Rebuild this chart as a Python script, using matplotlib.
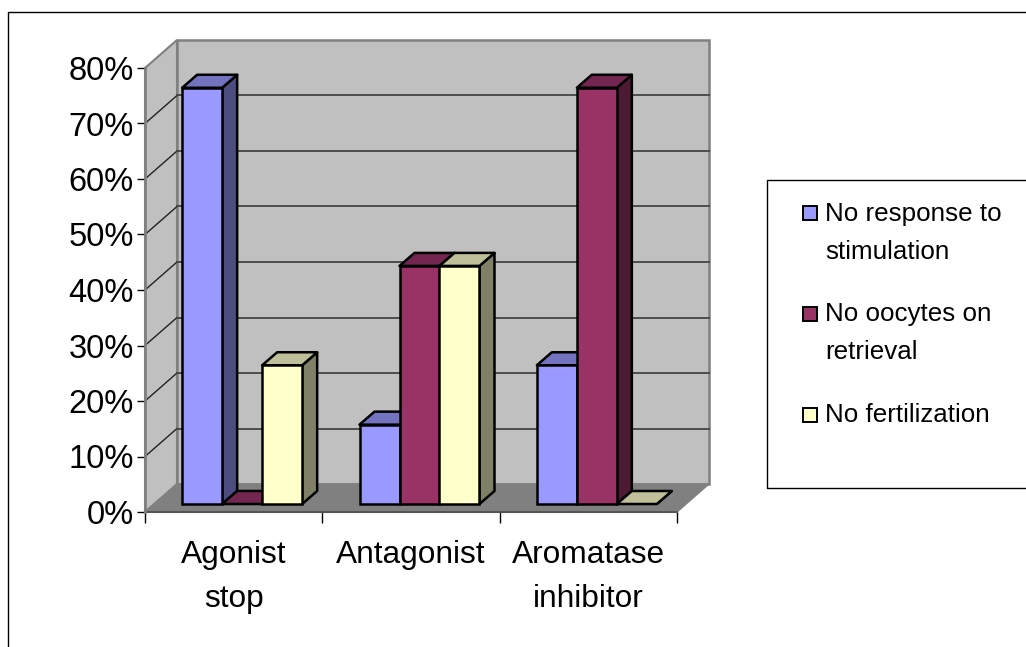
import numpy as np
import matplotlib
matplotlib.use('Agg')
import matplotlib.pyplot as plt
from matplotlib.lines import Line2D
from matplotlib.patches import Rectangle

plt.rcParams['font.family'] = ['Liberation Sans', 'DejaVu Sans']

categorias = ['Agonist\nstop', 'Antagonist', 'Aromatase\ninhibitor']
series = ['No response to\nstimulation', 'No oocytes on\nretrieval', 'No fertilization']
sem_resposta = [75, 14.3, 25]
sem_oocitos = [0, 42.9, 75]
sem_fertilizacao = [25, 42.9, 0]
valores_y = [0, 10, 20, 30, 40, 50, 60, 70, 80]

W, H = 1026, 647
frente = '#9999FF', '#993366', '#FFFFCC'
topo = '#7373BF', '#732650', '#BFBF99'
lado = '#4D4D80', '#4D1A33', '#808066'

fig = plt.figure(figsize=(W / 100, H / 100), dpi=100)
# eixo = plano da frente do grafico 3d falso
ax = fig.add_axes([145 / W, 1 - 512 / H, 532 / W, 444 / H])
ax.set_xlim(0, 3)
ax.set_ylim(0, 80)
for s in ax.spines.values():
    s.set_visible(False)
ax.patch.set_visible(False)

px_x = 3 / 532  # dados por pixel
px_y = 80 / 444
dx, dy = 32 * px_x, 28 * px_y  # profundidade das paredes

# paredes e chao
ax.fill([0, dx, dx, 0], [0, dy, 80 + dy, 80], facecolor='#C0C0C0', edgecolor='#808080', lw=1.5, clip_on=False, zorder=1)
ax.fill([dx, 3 + dx, 3 + dx, dx], [dy, dy, 80 + dy, 80 + dy], facecolor='#C0C0C0', edgecolor='#808080', lw=1.8, clip_on=False, zorder=1)
ax.fill([0, dx, 3 + dx, 3], [0, dy, dy, 0], facecolor='#808080', edgecolor='#808080', lw=1, clip_on=False, zorder=2)
ax.plot([0, 3], [0, 0], color='#555555', lw=1.5, clip_on=False, zorder=3)

# linhas de grade
for v in valores_y[1:-1]:
    ax.plot([0, dx], [v, v + dy], color='#222222', lw=1, clip_on=False, zorder=2)
    ax.plot([dx, 3 + dx], [v + dy, v + dy], color='#444444', lw=1.3, clip_on=False, zorder=2)

# barras
larg = 40 * px_x
prof_x, prof_y = 15 * px_x, 13 * px_y
base_x, base_y = 8.5 * px_x, 8 * px_y
inicio = (np.arange(3) + 0.5) - 1.5 * larg + base_x
ordem = []
for i, vals in enumerate([sem_resposta, sem_oocitos, sem_fertilizacao]):
    for j, v in enumerate(vals):
        ordem.append((j, i, v))

for j, i, v in sorted(ordem, key=lambda t: (t[0], t[1])):
    x0 = inicio[j] + i * larg
    x1 = x0 + larg
    y0 = base_y
    y1 = base_y + v
    z = 5 + j * 3 + i
    ax.fill([x1, x1 + prof_x, x1 + prof_x, x1], [y0, y0 + prof_y, y1 + prof_y, y1],
            facecolor=lado[i], edgecolor='black', lw=1.8, joinstyle='round', clip_on=False, zorder=z)
    ax.fill([x0, x1, x1 + prof_x, x0 + prof_x], [y1, y1, y1 + prof_y, y1 + prof_y],
            facecolor=topo[i], edgecolor='black', lw=1.8, joinstyle='round', clip_on=False, zorder=z)
    if v > 0:
        ax.bar(x0, v, larg, bottom=y0, align='edge', color=frente[i], edgecolor='black', lw=1.8, clip_on=False, zorder=z)

# eixos
ax.set_yticks(valores_y)
ax.set_yticklabels(['%d%%' % v for v in valores_y], fontsize=23.5, color='black')
ax.tick_params(axis='y', length=6, width=1, color='black', pad=2)
ax.set_xticks([0, 1, 2, 3])
ax.set_xticklabels([])
ax.tick_params(axis='x', length=8, width=1, color='black')
ax.set_xticks([0.5, 1.5, 2.5], minor=True)
ax.set_xticklabels(categorias, minor=True, fontsize=22.8, linespacing=1.62)
ax.tick_params(axis='x', which='minor', length=0, pad=20)
ax.plot([0, 0], [0, 80], color='#808080', lw=2, clip_on=False, zorder=3)

# borda da figura e caixa da legenda (sem lados na borda direita/baixo)
fig.add_artist(Line2D([8 / W, 8 / W, 1], [0, 1 - 12 / H, 1 - 12 / H], color='black', lw=1))
fig.add_artist(Line2D([1, 767 / W, 767 / W, 1], [1 - 180 / H, 1 - 180 / H, 1 - 488 / H, 1 - 488 / H], color='black', lw=1))

itens = [(213.5, 214, 252), (313.5, 314, 352), (415, 415, None)]
for i, (yq, y1, y2) in enumerate(itens):
    fig.add_artist(Rectangle((803 / W, 1 - (yq + 7) / H), 14 / W, 14 / H, transform=fig.transFigure,
                             facecolor=frente[i], edgecolor='black', lw=1.4))
    partes = series[i].split('\n')
    fig.text(825 / W, 1 - y1 / H, partes[0], fontsize=18.7, va='center', ha='left')
    if y2:
        fig.text(825 / W, 1 - y2 / H, partes[1], fontsize=18.7, va='center', ha='left')

fig.savefig('out.png', dpi=100)
